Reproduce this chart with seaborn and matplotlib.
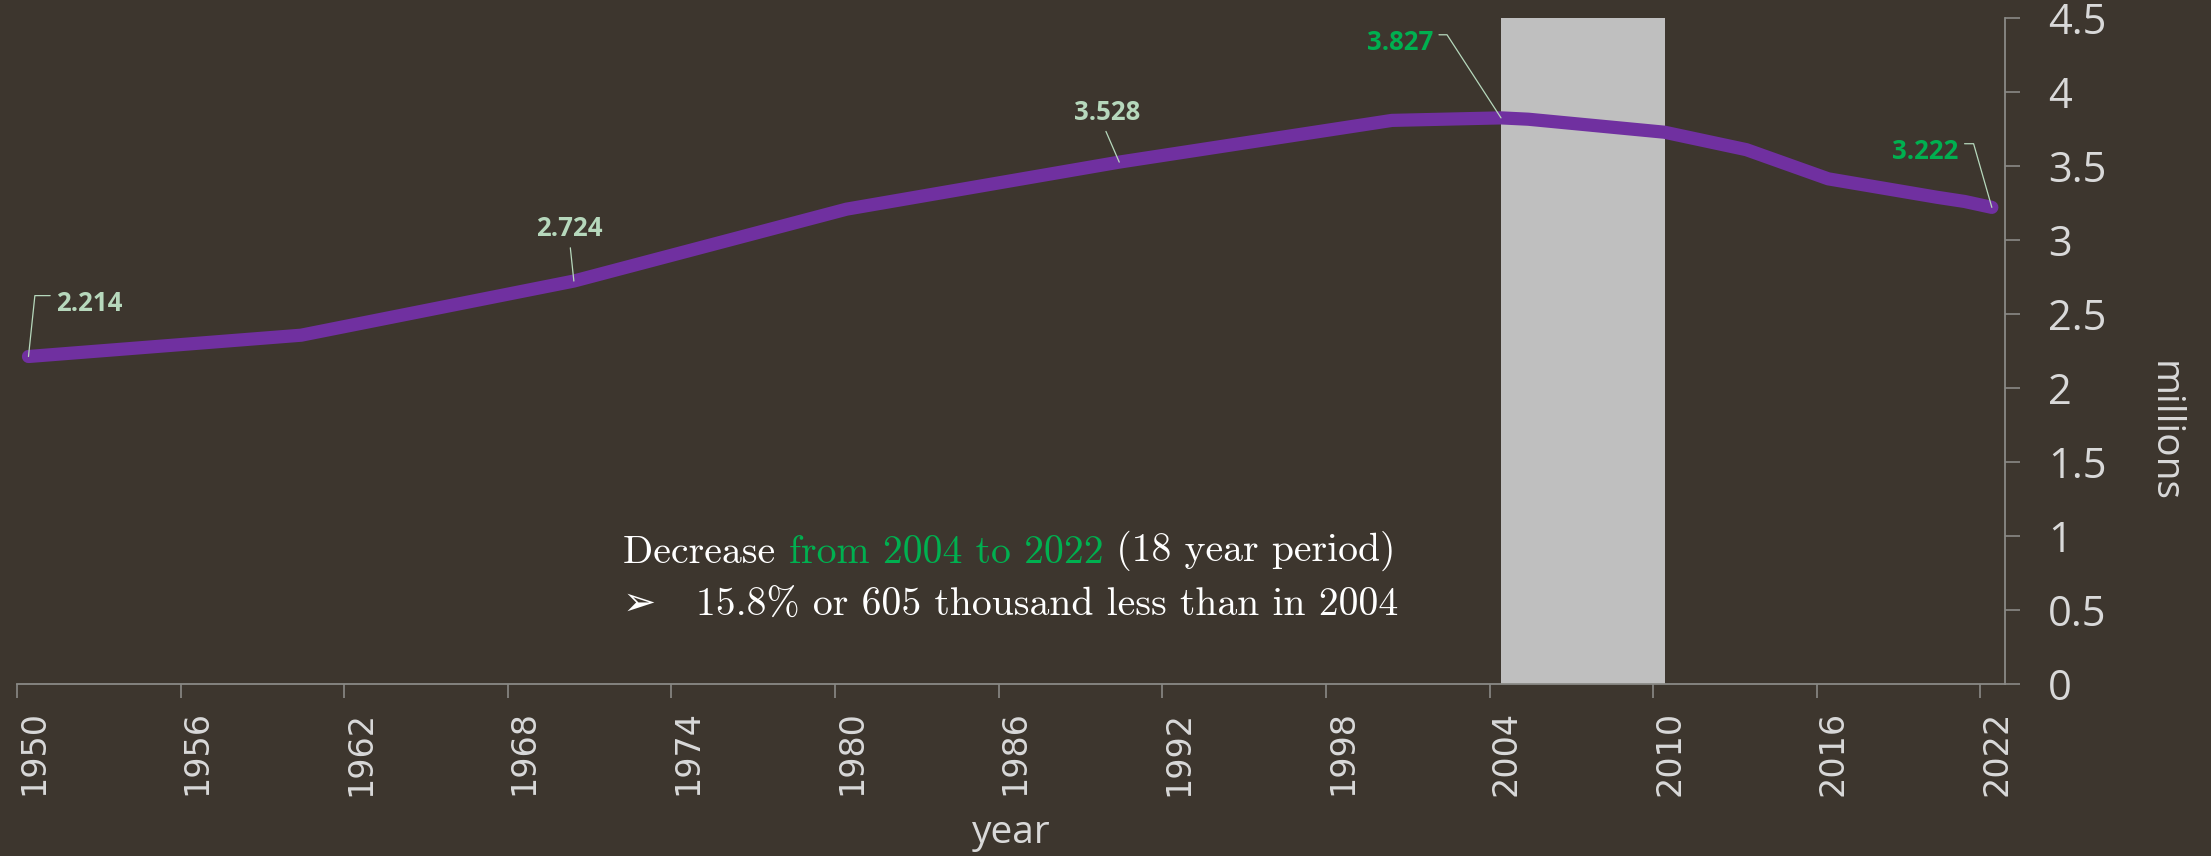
import matplotlib
matplotlib.use("Agg")
import matplotlib.pyplot as plt
import seaborn as sns
import pandas as pd


# ── Data ──────────────────────────────────────────────────────────────────────

years = [1950, 1960, 1970, 1980, 1990, 2000, 2004, 2005, 2010, 2013, 2016, 2020, 2021, 2022]
population = [2.214, 2.358, 2.724, 3.210, 3.528, 3.810, 3.827, 3.818, 3.730,
              3.612, 3.415, 3.290, 3.262, 3.222]   # millions

x_ticks = list(range(1950, 2023, 6))
y_ticks = [0, 0.5, 1, 1.5, 2, 2.5, 3, 3.5, 4, 4.5]
y_tick_labels = ["0", "0.5", "1", "1.5", "2", "2.5", "3", "3.5", "4", "4.5"]

highlight_span = (2004, 2010)
labelled_years = [1950, 1970, 1990, 2004, 2022]

note_line1 = ["Decrease ", "from 2004 to 2022", " (18 year period)"]
note_line2 = "\u27a2   15.8% or 605 thousand less than in 2004"


# ── Style ─────────────────────────────────────────────────────────────────────

BG = "#3d362e"
PURPLE = "#7030a0"
GREEN = "#00b050"
PALE = "#b6d8bc"
AXIS = "#8a8a86"
TICK_TXT = "#d9d9d9"
MID_YEAR = 0.42          # points sit a little right of the year tick

# label placement: (dx, dy) in points, ha, colour, leader style
label_style = {
    1950: dict(off=(20, 38), ha="left", color=PALE, relpos=(0, 0.8), conn="angle,angleA=0,angleB=84,rad=0"),
    1970: dict(off=(-3, 38), ha="center", color=PALE, relpos=(0.5, 0), conn="arc3"),
    1990: dict(off=(-9, 36), ha="center", color=PALE, relpos=(0.45, 0), conn="arc3"),
    2004: dict(off=(-49, 54), ha="right", color=GREEN, relpos=(1, 0.8), conn="angle,angleA=0,angleB=123,rad=0"),
    2022: dict(off=(-24, 40), ha="right", color=GREEN, relpos=(1, 0.8), conn="angle,angleA=0,angleB=106,rad=0"),
}

sns.set_theme(style="white", rc={
    "axes.facecolor": BG,
    "figure.facecolor": BG,
    "axes.edgecolor": AXIS,
})
plt.rcParams["font.family"] = ["DejaVu Sans"]

df = pd.DataFrame({"year": years, "population": population})
df["x"] = df["year"] + MID_YEAR

fig = plt.figure(figsize=(22.11, 8.56), dpi=100)
ax = fig.add_axes([0.0077, 0.2009, 0.8991, 0.7777])

ax.axvspan(highlight_span[0] + MID_YEAR, highlight_span[1] + MID_YEAR,
           color="#bfbfbf", lw=0, zorder=1)

sns.lineplot(data=df, x="x", y="population", color=PURPLE, linewidth=9.5,
             solid_capstyle="round", ax=ax, zorder=3)

# ── Axes ──────────────────────────────────────────────────────────────────────

ax.set_xlim(1950, 2022.9)
ax.set_ylim(0, 4.5)
for side in ["top", "left"]:
    ax.spines[side].set_visible(False)
for side in ["right", "bottom"]:
    ax.spines[side].set_color(AXIS)
    ax.spines[side].set_linewidth(1.3)

ax.yaxis.tick_right()
ax.yaxis.set_label_position("right")
ax.set_yticks(y_ticks)
ax.set_yticklabels(y_tick_labels, fontfamily="Open Sans", fontsize=30,
                   color=TICK_TXT)
ax.set_xticks(x_ticks)
ax.set_xticklabels([str(y) for y in x_ticks], rotation=90, ha="left",
                   fontsize=24, color=TICK_TXT)
ax.tick_params(axis="y", direction="out", length=11, width=1.2, color=AXIS,
               pad=20, right=True, left=False)
ax.tick_params(axis="x", direction="out", length=10, width=1.2, color=AXIS,
               pad=9, bottom=True)

ax.set_xlabel("year", fontfamily="Open Sans", fontsize=28, color=TICK_TXT)
ax.xaxis.set_label_coords(0.5, -0.195)
ax.set_ylabel("millions", fontfamily="Open Sans", fontsize=28, color=TICK_TXT,
              rotation=270, va="center", ha="center")
ax.yaxis.set_label_coords(1.08, 0.38)

# ── Value labels ──────────────────────────────────────────────────────────────

for yr in labelled_years:
    st = label_style[yr]
    val = population[years.index(yr)]
    ax.annotate(f"{val:.3f}", xy=(yr + MID_YEAR, val), xytext=st["off"],
                textcoords="offset points", ha=st["ha"], va="center",
                fontsize=18.5, fontfamily="Open Sans", fontweight="bold",
                color=st["color"], zorder=5,
                arrowprops=dict(arrowstyle="-", color=PALE, lw=0.9,
                                shrinkA=2, shrinkB=0, relpos=st["relpos"],
                                connectionstyle=st["conn"]))

# ── Note ──────────────────────────────────────────────────────────────────────

serif = ["cmr10", "DejaVu Serif"]
t1 = ax.text(0.305, 0.182, note_line1[0], transform=ax.transAxes,
             fontsize=28.6, family=serif, color="white", va="baseline")
t2 = ax.annotate(note_line1[1], xy=(1, 0), xycoords=t1, va="bottom",
                 fontsize=28.6, family=serif, color=GREEN)
ax.annotate(note_line1[2], xy=(1, 0), xycoords=t2, va="bottom",
            fontsize=28.6, family=serif, color="white")
ax.text(0.305, 0.102, note_line2, transform=ax.transAxes, fontsize=28.6,
        family=["cmr10", "DejaVu Sans"], color="white", va="baseline")

fig.savefig("out.png", dpi=100, facecolor=BG)
